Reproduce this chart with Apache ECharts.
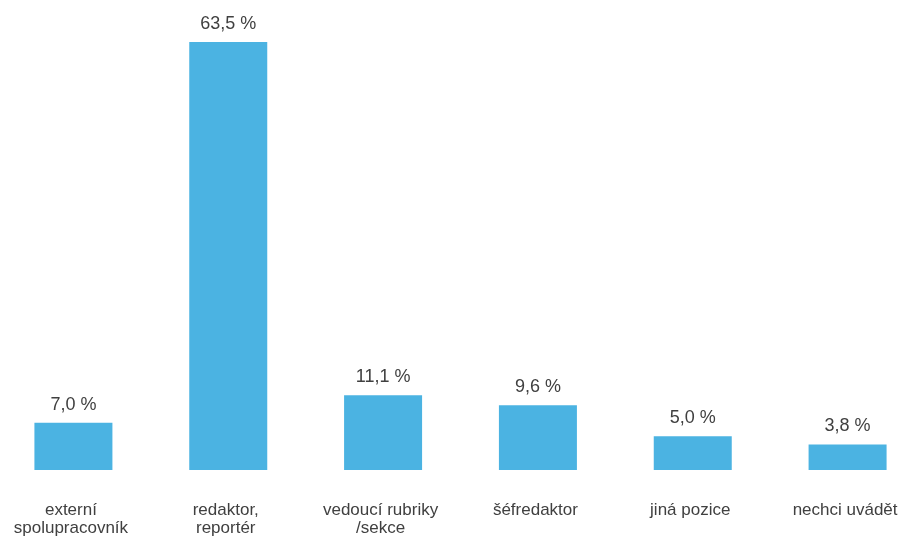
<!DOCTYPE html>
<html>
<head>
<meta charset="utf-8">
<script src="https://cdn.jsdelivr.net/npm/echarts@6/dist/echarts.min.js"></script>
<style>
  html, body { margin: 0; padding: 0; background: #ffffff; }
  #chart { width: 899px; height: 538px; }
</style>
</head>
<body>
<div id="chart"></div>
<script>
// Pozice respondentů v redakci (podíl v %)
const categories = [
  'externí\nspolupracovník',
  'redaktor,\nreportér',
  'vedoucí rubriky\n/sekce',
  'šéfredaktor',
  'jiná pozice',
  'nechci uvádět'
];
const shares = [7.0, 63.5, 11.1, 9.6, 5.0, 3.8];

const chart = echarts.init(document.getElementById('chart'), null, { renderer: 'canvas' });

chart.setOption({
  animation: false,
  backgroundColor: '#ffffff',
  grid: {
    left: -4, width: 929, top: 32, bottom: 68,
    containLabel: false,
    outerBoundsMode: 'none'
  },
  xAxis: {
    type: 'category',
    data: categories,
    axisLine: { show: false },
    axisTick: { show: false },
    axisLabel: {
      interval: 0,
      margin: 31,
      color: '#404040',
      fontFamily: 'Liberation Sans, Arial, sans-serif',
      fontSize: 17,
      lineHeight: 18,
      padding: [0, 5, 0, 0]
    }
  },
  yAxis: {
    type: 'value',
    min: 0,
    max: 65,
    show: false,
    splitLine: { show: false }
  },
  series: [{
    type: 'bar',
    data: shares,
    barWidth: 78,
    itemStyle: { color: '#4BB3E2' },
    label: {
      show: true,
      position: 'top',
      distance: 9,
      color: '#404040',
      fontFamily: 'Liberation Sans, Arial, sans-serif',
      fontSize: 18,
      formatter: p => p.value.toFixed(1).replace('.', ',') + ' %'
    }
  }]
});
</script>
</body>
</html>
